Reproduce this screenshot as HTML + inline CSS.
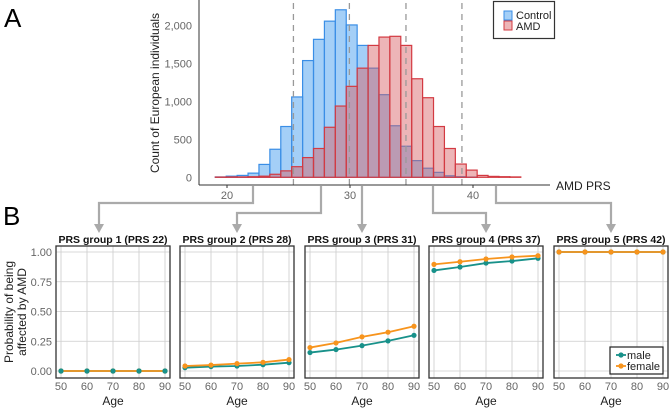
<!DOCTYPE html>
<html><head><meta charset="utf-8"><style>
body{margin:0;background:#fff;width:669px;height:411px;overflow:hidden;font-family:"Liberation Sans",sans-serif}
svg text{font-family:"Liberation Sans",sans-serif}
</style></head><body>
<svg id="fig" width="669" height="411" xmlns="http://www.w3.org/2000/svg">
<text x="4" y="27" font-size="26">A</text>
<text x="3" y="225" font-size="26">B</text>
<g id="hist"></g>
<g id="arrows"></g>
<g id="panels"></g>
</svg>
<script>
const binStart = 19.05, binWidth = 0.887;
const controlCounts = [5,15,25,55,170,370,670,1060,1540,1820,2060,2210,2010,1740,1440,1090,680,410,220,120,65,20,8,3,0,0,0,0];
const amdCounts = [3,5,5,8,15,40,85,140,260,380,660,940,1200,1440,1740,1850,1860,1740,1300,1050,670,380,175,95,25,12,8,5];
const xTicks = [20,30,40];
const yTicks = [0,500,1000,1500,2000];
const yTickLabels = ["0","500","1,000","1,500","2,000"];
const groupCuts = [25.4,29.95,34.55,39.1];
const groupPRS = [22,28,31,37,42];
const ages = [50,60,70,80,90];
const maleProb = [[0,0,0,0,0],[0.028,0.037,0.042,0.053,0.07],[0.155,0.18,0.213,0.253,0.30],[0.845,0.874,0.907,0.924,0.947],[1,1,1,1,1]];
const femaleProb = [[0,0,0,0,0],[0.042,0.05,0.062,0.073,0.096],[0.197,0.236,0.287,0.326,0.376],[0.896,0.918,0.941,0.958,0.969],[1,1,1,1,1]];
const probTicks = [0,0.25,0.5,0.75,1];
const probTickLabels = ["0.00","0.25","0.50","0.75","1.00"];

const NS="http://www.w3.org/2000/svg";
function mk(tag,attrs,parent,txt){const e=document.createElementNS(NS,tag);for(const k in attrs)e.setAttribute(k,attrs[k]);if(txt!==undefined)e.textContent=txt;parent.appendChild(e);return e;}
const hx=v=>227+(v-20)*12.3;
const hy=c=>177.3-c*0.0758;
const H=document.getElementById('hist');
controlCounts.forEach((c,i)=>{const x0=hx(binStart+i*binWidth),x1=hx(binStart+(i+1)*binWidth);
 const r=mk('rect',{x:x0,y:hy(c),width:x1-x0,height:177.3-hy(c),fill:'rgba(74,160,240,0.5)',stroke:'#3a8ee6','stroke-width':1.2},H);
 
 });
amdCounts.forEach((c,i)=>{const x0=hx(binStart+i*binWidth),x1=hx(binStart+(i+1)*binWidth);
 const r=mk('rect',{x:x0,y:hy(c),width:x1-x0,height:177.3-hy(c),fill:'rgba(215,90,95,0.45)',stroke:'#d33a42','stroke-width':1.2},H);
 
 });
groupCuts.forEach(v=>{const l=mk('line',{x1:hx(v),x2:hx(v),y1:3,y2:185,stroke:'#999','stroke-width':1.3,'stroke-dasharray':'6,5'},H);
 
 });
mk('line',{x1:199,x2:199,y1:0,y2:185,stroke:'#333','stroke-width':1},H);
mk('line',{x1:199,x2:550,y1:185,y2:185,stroke:'#333','stroke-width':1},H);
yTicks.forEach((t,i)=>{const tx=mk('text',{x:192,y:hy(t)+4,'font-size':11,fill:'#666','text-anchor':'end'},H,yTickLabels[i]);
 
 });
xTicks.forEach(t=>{mk('line',{x1:hx(t),x2:hx(t),y1:185,y2:188,stroke:'#333'},H);
 const tx=mk('text',{x:hx(t),y:199,'font-size':11,fill:'#666','text-anchor':'middle'},H,String(t));
 
 });
const xt=mk('text',{x:556,y:190,'font-size':12,fill:'#222'},H,'AMD PRS');


const yt=mk('text',{transform:'translate(159,93) rotate(-90)','font-size':12,fill:'#222','text-anchor':'middle'},H,'Count of European individuals');


const lg=mk('g',{},H);


mk('rect',{x:493.5,y:1.5,width:61,height:37,fill:'#fff',stroke:'#333','stroke-width':1.2},lg);
mk('rect',{x:504,y:11,width:8,height:9,fill:'rgba(74,160,240,0.5)',stroke:'#3a8ee6'},lg);
mk('rect',{x:504,y:21,width:8,height:9,fill:'rgba(215,90,95,0.45)',stroke:'#d33a42'},lg);
mk('text',{x:516,y:19,'font-size':11,fill:'#222'},lg,'Control');
mk('text',{x:516,y:30,'font-size':11,fill:'#222'},lg,'AMD');

const A=document.getElementById('arrows');
const srcX=[253,321,362,433,496], dstX=[99,237,362,486,611], hY=[203,213,213,213,203];
srcX.forEach((s,i)=>{const d=dstX[i];
 const p=mk('path',{d:`M${s},186 V${hY[i]} H${d} V226`,fill:'none',stroke:'#aaa','stroke-width':2.2},A);
 
 
 mk('polygon',{points:`${d-5},224 ${d+5},224 ${d},233`,fill:'#aaa'},A);});

const P=document.getElementById('panels');
const lefts=[56,180,305,429,554], pw=114, pTop=246, pBot=378;
const py=v=>371-v*119;
probTicks.forEach((t,i)=>{const tx=mk('text',{x:52,y:py(t)+4,'font-size':11,fill:'#666','text-anchor':'end'},P,probTickLabels[i]);
 
 });
const pt=mk('text',{transform:'translate(13,312) rotate(-90)','font-size':12,fill:'#222','text-anchor':'middle'},P);


mk('tspan',{x:0,dy:0},pt,'Probability of being');
mk('tspan',{x:0,dy:13},pt,'affected by AMD');
lefts.forEach((L,g)=>{
 const G=mk('g',{},P);
 
 
 const ax=a=>L+5+(a-50)/40*(pw-10);
 probTicks.forEach(t=>mk('line',{x1:L,x2:L+pw,y1:py(t),y2:py(t),stroke:'#ccc','stroke-width':0.8},G));
 ages.forEach(a=>mk('line',{x1:ax(a),x2:ax(a),y1:pTop,y2:pBot,stroke:'#ccc','stroke-width':0.8},G));
 mk('rect',{x:L,y:pTop,width:pw,height:pBot-pTop,fill:'none',stroke:'#333','stroke-width':1.3},G);
 const ti=mk('text',{x:L+pw/2,y:243,'font-size':10.5,'font-weight':'bold','text-anchor':'middle',fill:'#111'},G,`PRS group ${g+1} (PRS ${groupPRS[g]})`);
 
 
 [[maleProb[g],'#18918a','male-line'],[femaleProb[g],'#f7941d','female-line']].forEach(([vals,col,nm])=>{
  const l=mk('polyline',{points:vals.map((v,i)=>`${ax(ages[i])},${py(v)}`).join(' '),fill:'none',stroke:col,'stroke-width':1.8},G);
  
  
  vals.forEach((v,i)=>mk('circle',{cx:ax(ages[i]),cy:py(v),r:2.6,fill:col},G));
 });
 if(g===0){
  maleProb[0].forEach((v,i)=>mk('circle',{cx:ax(ages[i]),cy:py(v),r:2.6,fill:'#18918a'},G));
 }
 ages.forEach(a=>{const tx=mk('text',{x:ax(a),y:390,'font-size':11,fill:'#666','text-anchor':'middle'},G,String(a));
  
  });
 const at=mk('text',{x:L+pw/2,y:405,'font-size':12,fill:'#222','text-anchor':'middle'},G,'Age');
 
 
});
const pl=mk('g',{},P);


mk('rect',{x:610,y:347,width:53,height:27,fill:'#fff',stroke:'#222','stroke-width':1.2},pl);
mk('line',{x1:616,x2:626,y1:355,y2:355,stroke:'#18918a','stroke-width':1.8},pl);
mk('circle',{cx:621,cy:355,r:2.6,fill:'#18918a'},pl);
mk('line',{x1:616,x2:626,y1:366,y2:366,stroke:'#f7941d','stroke-width':1.8},pl);
mk('circle',{cx:621,cy:366,r:2.6,fill:'#f7941d'},pl);
mk('text',{x:627,y:359,'font-size':11,fill:'#222'},pl,'male');
mk('text',{x:627,y:370,'font-size':11,fill:'#222'},pl,'female');
</script>
</body></html>
